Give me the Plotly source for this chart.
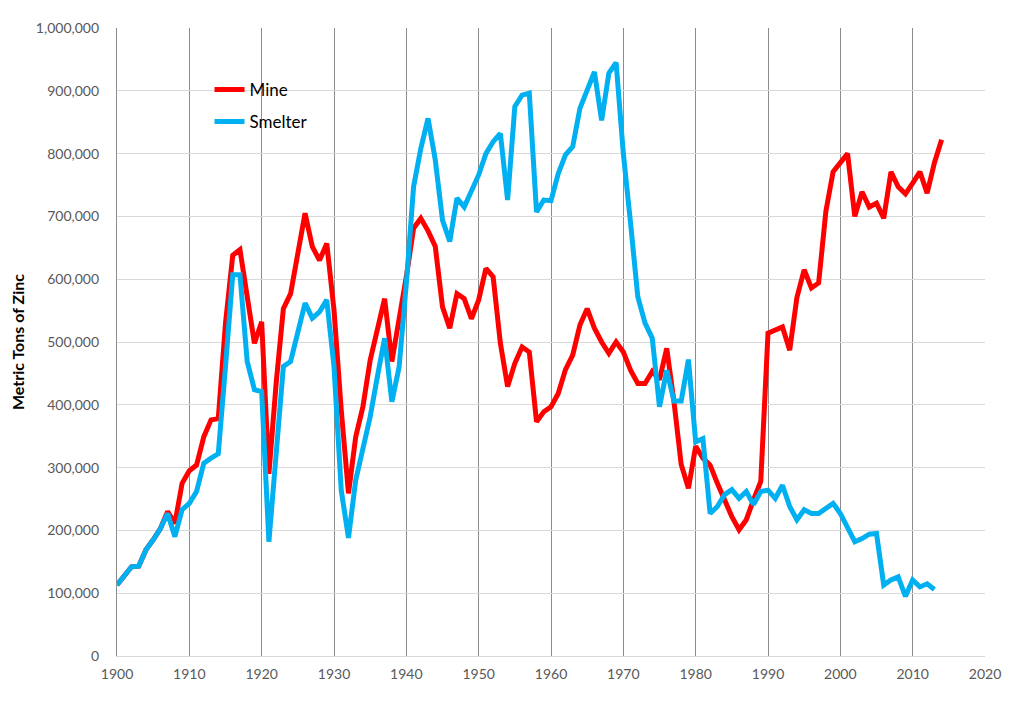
import plotly.graph_objects as go

mine_years = list(range(1900, 2015))
mine_k = [113, 129, 142, 143, 169, 185, 203, 230, 211, 275,
          295, 304, 349, 376, 378, 530, 638, 647, 575, 498,
          532, 290, 434, 553, 577, 646, 705, 652, 630, 657,
          551, 392, 259, 349, 397, 471, 519, 569, 469, 533,
          604, 681, 697, 677, 652, 556, 522, 577, 569, 537,
          567, 617, 604, 498, 429, 466, 492, 484, 373, 389,
          397, 418, 456, 479, 527, 553, 522, 500, 482, 500,
          484, 455, 434, 434, 453, 440, 490, 405, 305, 267,
          334, 315, 304, 275, 249, 222, 201, 217, 249, 278,
          514, 519, 524, 487, 571, 615, 586, 594, 708, 771,
          787, 800, 700, 739, 715, 721, 697, 771, 747, 736,
          753, 771, 737, 785, 822]

smelter_years = list(range(1900, 2014))
smelter_k = [113, 129, 142, 143, 169, 185, 203, 227, 190, 233,
             243, 262, 307, 315, 322, 461, 607, 607, 469, 424,
             421, 182, 320, 461, 469, 519, 562, 538, 548, 567,
             461, 264, 188, 280, 333, 381, 445, 506, 405, 460,
             593, 747, 808, 856, 790, 694, 660, 729, 715, 742,
             766, 800, 819, 832, 726, 875, 893, 896, 707, 726,
             725, 768, 798, 811, 872, 901, 930, 853, 928, 945,
             800, 689, 572, 530, 506, 397, 455, 406, 406, 472,
             341, 346, 227, 238, 257, 265, 251, 262, 241, 262,
             264, 251, 272, 238, 217, 233, 227, 227, 235, 243,
             227, 203, 182, 187, 194, 195, 113, 121, 126, 95,
             121, 110, 115, 106]

mine = [v * 1000 for v in mine_k]
smelter = [v * 1000 for v in smelter_k]

x_ticks = list(range(1900, 2021, 10))
y_ticks = list(range(0, 1000001, 100000))

FONT = "Lato, 'Open Sans', sans-serif"

fig = go.Figure()
fig.add_trace(go.Scatter(x=mine_years, y=mine, mode="lines", name="Mine",
                         line=dict(color="#FF0000", width=5), legendgroup="a",
                         hoverinfo="skip"))
fig.add_trace(go.Scatter(x=smelter_years, y=smelter, mode="lines", name="Smelter",
                         line=dict(color="#00B0F0", width=5), legendgroup="b",
                         hoverinfo="skip"))

fig.update_layout(
    width=1024, height=707,
    margin=dict(l=109, r=47, t=20, b=59),
    paper_bgcolor="white", plot_bgcolor="white",
    font=dict(family=FONT, size=14, color="#595959"),
    showlegend=True,
    legend=dict(x=0.1066, y=0.93, xanchor="left", yanchor="top",
                bgcolor="rgba(0,0,0,0)", font=dict(size=17, color="#000000"),
                tracegroupgap=7, traceorder="grouped"),
    xaxis=dict(range=[1900, 2020], tickvals=x_ticks, ticks="", showgrid=True,
               gridcolor="#8c8c8c", gridwidth=1.3, zeroline=False,
               showline=True, linecolor="#d9d9d9", linewidth=1,
               ticklabelstandoff=5, automargin=False,
               tickfont=dict(size=14, color="#595959")),
    yaxis=dict(range=[0, 1000000], tickvals=y_ticks, tickformat=",d", ticks="",
               showgrid=True, gridcolor="#d9d9d9", gridwidth=1, zeroline=False,
               showline=True, linecolor="#8c8c8c", linewidth=1.3,
               ticklabelstandoff=14, automargin=False,
               tickfont=dict(size=14, color="#595959"),
               title=dict(text="<b>Metric Tons of Zinc</b>", standoff=10,
                          font=dict(size=16, color="#000000"))),
)

fig.write_html("out.html")
